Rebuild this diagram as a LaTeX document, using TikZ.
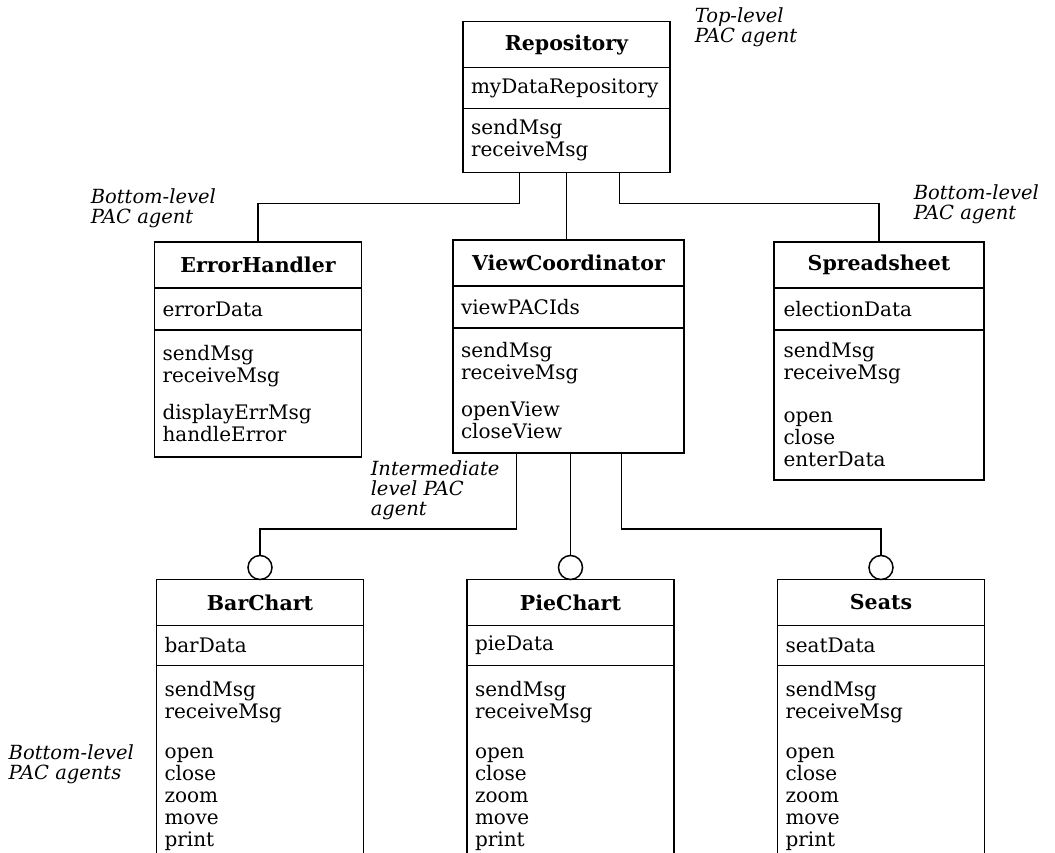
\documentclass[tikz,border=0pt]{standalone}
\usepackage{fontspec}
\setmainfont{DejaVu Serif}
\usetikzlibrary{positioning}

\tikzset{
  agent/.style={draw, outer sep=0pt, inner sep=0pt, minimum width=207pt},
  head/.style={agent, minimum height=46pt, font=\fontsize{20.5}{22}\selectfont\bfseries},
  members/.style={agent, inner xsep=8pt, text width=191pt, align=left, font=\fontsize{20}{22}\selectfont},
  wide/.style={minimum width=231pt, text width=215pt},
  socket/.style={draw, circle, minimum size=24pt, inner sep=0pt, outer sep=0pt},
  remark/.style={anchor=north west, inner sep=0pt, align=left, font=\fontsize{19.5}{20}\selectfont\itshape},
}

\begin{document}
\begin{tikzpicture}[x=1pt, y=-1pt, line width=1.5pt, node distance=0pt]
\useasboundingbox (0,0) rectangle (1055,853);
\clip (0,0) rectangle (1055,853);

% top-level agent
\node[head] (rep) at (566.5,44.5) {Repository};
\node[members, minimum height=41pt, below=of rep] (repA) {myDataRepository};
\node[members, minimum height=64pt, below=of repA] (repO) {sendMsg\\receiveMsg};

% second level
\node[head] (err) at (258,265) {ErrorHandler};
\node[members, minimum height=42pt, below=of err] (errA) {errorData};
\node[members, minimum height=127pt, below=of errA] (errO) {sendMsg\\receiveMsg\\[15pt]displayErrMsg\\handleError};

\node[head, minimum width=231pt] (vc) at (568.5,263) {ViewCoordinator};
\node[members, wide, minimum height=42pt, below=of vc] (vcA) {viewPACIds};
\node[members, wide, minimum height=125pt, below=of vcA] (vcO) {sendMsg\\receiveMsg\\[15pt]openView\\closeView};

\node[head, minimum width=210pt] (sheet) at (879,265) {Spreadsheet};
\node[members, minimum width=210pt, minimum height=42pt, below=of sheet] (sheetA) {electionData};
\node[members, minimum width=210pt, minimum height=150pt, below=of sheetA] (sheetO) {sendMsg\\receiveMsg\\[21pt]open\\close\\enterData};

% views below the coordinator (open at the bottom)
\node[head] (bar) at (260,602.5) {BarChart};
\node[members, minimum height=40pt, below=of bar] (barA) {barData};
\node[members, minimum height=201pt, below=of barA] (barO) {sendMsg\\receiveMsg\\[18pt]open\\close\\zoom\\move\\print};
\node[socket, above=of bar] (barS) {};

\node[head] (pie) at (570.5,602.5) {PieChart};
\node[members, minimum height=40pt, below=of pie] (pieA) {pieData};
\node[members, minimum height=201pt, below=of pieA] (pieO) {sendMsg\\receiveMsg\\[18pt]open\\close\\zoom\\move\\print};
\node[socket, above=of pie] (pieS) {};

\node[head] (seats) at (881,602.5) {Seats};
\node[members, minimum height=40pt, below=of seats] (seatsA) {seatData};
\node[members, minimum height=201pt, below=of seatsA] (seatsO) {sendMsg\\receiveMsg\\[18pt]open\\close\\zoom\\move\\print};
\node[socket, above=of seats] (seatsS) {};

% connections
\draw ([xshift=-47pt]repO.south) -- ++(0,31) -| (err.north);
\draw (repO.south) -- (repO.south |- vc.north);
\draw ([xshift=53pt]repO.south) -- ++(0,31) -| (sheet.north);

\draw ([xshift=-52pt]vcO.south) -- ++(0,76) -| (barS.north);
\draw (vcO.south -| pieS.north) -- (pieS.north);
\draw ([xshift=53pt]vcO.south) -- ++(0,76) -| (seatsS.north);

% agent levels
\node[remark] (repNote) at (694,7) {Top-level\\PAC agent};
\node[remark] (errNote) at (90,188) {Bottom-level\\PAC agent};
\node[remark] (sheetNote) at (913,184) {Bottom-level\\PAC agent};
\node[remark] (vcNote) at (370,460) {Intermediate\\level PAC\\agent};
\node[remark] (viewNote) at (8,744) {Bottom-level\\PAC agents};
\end{tikzpicture}
\end{document}
